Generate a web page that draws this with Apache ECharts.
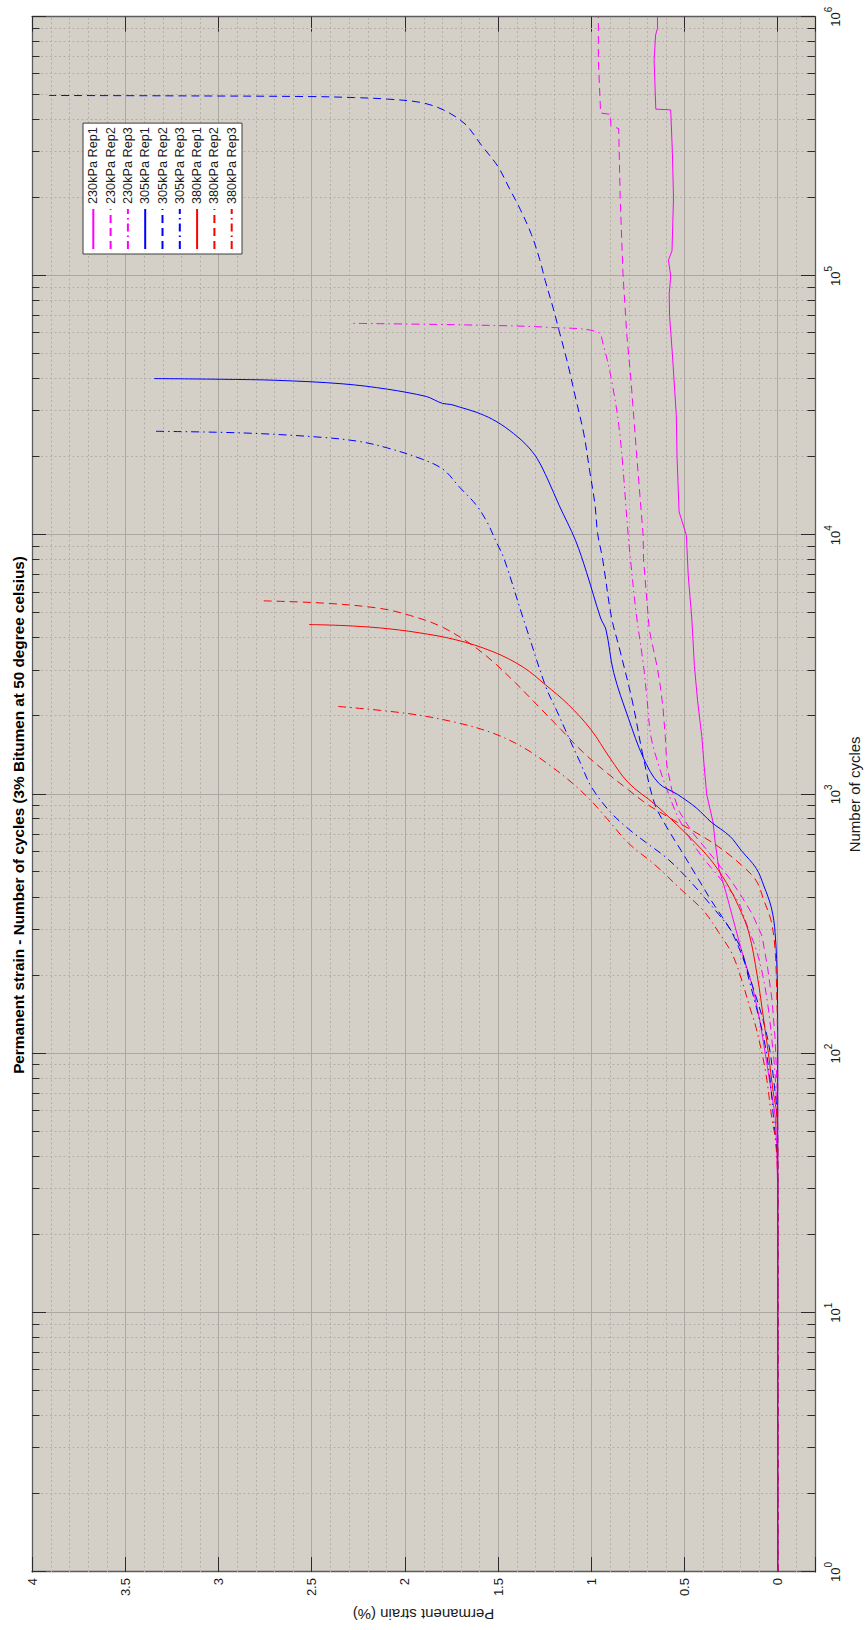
<!DOCTYPE html>
<html>
<head>
<meta charset="utf-8">
<script src="https://cdn.jsdelivr.net/npm/echarts@6/dist/echarts.min.js"></script>
<style>
  html, body { margin: 0; padding: 0; background: #ffffff; width: 867px; height: 1630px; overflow: hidden; }
  /* The plot is laid out landscape and turned a quarter turn counter-clockwise onto the portrait page. */
  #chart { position: absolute; left: 0; top: 0; width: 1630px; height: 867px;
           transform-origin: 0 0; transform: translate(0, 1630px) rotate(-90deg); }
</style>
</head>
<body>
<div id="chart"></div>
<script>
// Permanent strain (%) against number of load cycles, as [cycles, strain] pairs.
const rep230_1 = [[1,0],[30,0],[45,0.006],[58,0.014],[71,0.034],[97,0.064],[133,0.095],[182,0.135],[251,0.195],[344,0.246],[415,0.276],[518,0.316],[650,0.335],[782,0.347],[1000,0.381],[1300,0.395],[1670,0.407],[2300,0.43],[3140,0.447],[4790,0.461],[7000,0.48],[10000,0.49],[12300,0.529],[20000,0.54],[28900,0.544],[50000,0.565],[69800,0.58],[85000,0.582],[100000,0.574],[115000,0.586],[125000,0.567],[200000,0.559],[300000,0.565],[437000,0.574],[440000,0.654],[682000,0.663],[850000,0.655],[900000,0.645],[1000000,0.645]];
const rep230_2 = [[1,0],[35,0],[71,0.002],[114,0.014],[160,0.03],[214,0.054],[284,0.084],[344,0.135],[400,0.19],[472,0.256],[540,0.32],[607,0.377],[711,0.457],[859,0.528],[1040,0.568],[1297,0.595],[1670,0.603],[2150,0.615],[2600,0.629],[3140,0.648],[4310,0.689],[8110,0.72],[10000,0.722],[21000,0.758],[39500,0.787],[60000,0.81],[102000,0.83],[200000,0.845],[370000,0.853],[380000,0.895],[420000,0.897],[425000,0.95],[682000,0.962],[1000000,0.962]];
const rep230_3 = [[1,0],[35,0],[57,0.004],[83,0.014],[120,0.035],[156,0.054],[200,0.08],[251,0.115],[313,0.165],[390,0.216],[443,0.276],[502,0.338],[589,0.417],[689,0.478],[832,0.54],[1073,0.6],[1297,0.639],[1670,0.68],[2290,0.7],[3140,0.72],[5050,0.76],[8110,0.79],[10000,0.802],[24600,0.847],[39500,0.891],[54300,0.936],[60700,0.965],[63200,1.2],[64600,1.618],[65600,2.277]];
const rep305_1 = [[1,0],[40,0],[97,0],[182,0.002],[293,0.014],[365,0.034],[443,0.074],[518,0.115],[607,0.195],[689,0.256],[782,0.357],[887,0.437],[1000,0.538],[1107,0.64],[1380,0.72],[1960,0.8],[2950,0.88],[4310,0.921],[4790,0.95],[7170,1.025],[9520,1.084],[13060,1.173],[16310,1.232],[19720,1.29],[22390,1.351],[25400,1.44],[27950,1.529],[29800,1.617],[31200,1.707],[31920,1.753],[32200,1.797],[33230,1.841],[34280,1.885],[36560,2.093],[38330,2.331],[39560,2.686],[39930,2.983],[40180,3.345]];
const rep305_2 = [[1,0],[40,0],[57,0.002],[71,0.014],[114,0.054],[182,0.135],[284,0.236],[390,0.357],[486,0.437],[607,0.518],[734,0.589],[916,0.659],[1380,0.72],[2290,0.78],[3680,0.85],[4790,0.891],[8150,0.94],[10140,0.966],[13070,0.98],[17950,1.01],[24600,1.04],[33800,1.084],[46400,1.128],[61600,1.173],[74500,1.203],[95900,1.247],[115900,1.277],[144500,1.321],[180600,1.381],[218000,1.44],[263800,1.5],[319000,1.589],[385500,1.677],[437500,1.795],[466700,1.914],[481000,2.092],[487500,2.27],[492000,2.508],[495200,3.28],[496700,3.909]];
const rep305_3 = [[1,0],[35,0],[58,0.024],[83,0.044],[114,0.074],[151,0.115],[194,0.155],[251,0.195],[303,0.256],[344,0.316],[403,0.397],[486,0.498],[570,0.598],[647,0.7],[735,0.8],[858,0.9],[1070,1.0],[1340,1.062],[1670,1.123],[2085,1.183],[2600,1.244],[4310,1.345],[4790,1.366],[8150,1.469],[9530,1.513],[11200,1.558],[13060,1.617],[15300,1.706],[17940,1.795],[19720,1.914],[21680,2.092],[22960,2.241],[23850,2.449],[24780,2.864],[25160,3.354]];
const rep380_1 = [[1,0],[35,0],[57,0.004],[71,0.024],[100,0.05],[133,0.074],[200,0.11],[293,0.155],[370,0.21],[457,0.276],[560,0.36],[667,0.457],[800,0.57],[916,0.659],[1107,0.8],[1381,0.9],[1778,1.002],[2220,1.123],[2640,1.244],[3094,1.365],[3548,1.526],[3948,1.727],[4207,1.929],[4384,2.131],[4480,2.332],[4520,2.514]];
const rep380_2 = [[1,0],[40,0],[100,0],[133,0.002],[180,0.006],[251,0.014],[322,0.034],[390,0.074],[464,0.115],[534,0.195],[627,0.316],[711,0.437],[795,0.558],[916,0.7],[1040,0.8],[1218,0.921],[1449,1.042],[1780,1.163],[2188,1.284],[2684,1.405],[3245,1.526],[3800,1.647],[4450,1.808],[4895,1.97],[5215,2.131],[5466,2.433],[5585,2.785]];
const rep380_3 = [[1,0],[30,0],[45,0.01],[58,0.034],[85,0.065],[125,0.115],[151,0.15],[194,0.195],[243,0.245],[293,0.316],[355,0.397],[429,0.518],[535,0.659],[647,0.8],[782,0.9],[946,1.002],[1107,1.103],[1297,1.224],[1517,1.365],[1721,1.526],[1896,1.728],[2053,1.99],[2188,2.372]];

const seriesNames = ['230kPa Rep1','230kPa Rep2','230kPa Rep3','305kPa Rep1','305kPa Rep2','305kPa Rep3','380kPa Rep1','380kPa Rep2','380kPa Rep3'];
const seriesData = [rep230_1, rep230_2, rep230_3, rep305_1, rep305_2, rep305_3, rep380_1, rep380_2, rep380_3];

// Axis ranges and the minor grid positions.
const CYCLES_MIN = 1, CYCLES_MAX = 1000000;
const STRAIN_MIN = -0.2, STRAIN_MAX = 4;
const cycleMinor = [];
for (let k = 0; k < 6; k++) for (let m = 2; m <= 9; m++) cycleMinor.push(m * Math.pow(10, k));
const strainMinor = [];
for (let i = -1; i < 40; i++) if (i % 5 !== 0) strainMinor.push(i / 10);

const MAGENTA = '#ff00ff', BLUE = '#0000ff', RED = '#ff0000';
const DASHED = [8, 5], DASHDOT = [8, 4, 1.5, 4];
const lineColors = [MAGENTA, MAGENTA, MAGENTA, BLUE, BLUE, BLUE, RED, RED, RED];
const lineTypes = ['solid', DASHED, DASHDOT, 'solid', DASHED, DASHDOT, 'solid', DASHED, DASHDOT];
// The first two records contain abrupt jumps, so they are drawn as plain polylines.
const stepped = [true, true, false, false, false, false, false, false, false];

const FONT = '"Liberation Sans", Arial, Helvetica, sans-serif';
const TEXT = '#1a1a1a';
const MAJOR_GRID = '#aca8a1', MINOR_GRID = '#b4b0a9', EDGE = '#5c5c5c', TICK = '#2b2b2b';

// Dotted minor grid lines and the short minor ticks of the logarithmic axis.
function renderMinorGrid(params, api) {
  const bl = api.coord([CYCLES_MIN, STRAIN_MIN]);
  const tr = api.coord([CYCLES_MAX, STRAIN_MAX]);
  const dotted = { stroke: MINOR_GRID, lineWidth: 1, lineDash: [2, 2.5], fill: null };
  const tickStyle = { stroke: TICK, lineWidth: 1, fill: null };
  const children = [];
  cycleMinor.forEach(function (n) {
    const x = Math.round(api.coord([n, 0])[0]) + 0.5;
    children.push({ type: 'line', shape: { x1: x, y1: tr[1], x2: x, y2: bl[1] }, style: dotted });
    children.push({ type: 'line', shape: { x1: x, y1: bl[1], x2: x, y2: bl[1] - 7.5 }, style: tickStyle });
    children.push({ type: 'line', shape: { x1: x, y1: tr[1], x2: x, y2: tr[1] + 7.5 }, style: tickStyle });
  });
  strainMinor.forEach(function (s) {
    const y = Math.round(api.coord([CYCLES_MIN, s])[1]) + 0.5;
    children.push({ type: 'line', shape: { x1: bl[0], y1: y, x2: tr[0], y2: y }, style: dotted });
  });
  return { type: 'group', children: children };
}

function powerLabel(value) {
  const e = Math.round(Math.log10(value));
  return '{b|10}{e|' + e + '}';
}

const chart = echarts.init(document.getElementById('chart'), null, { renderer: 'svg' });

const lineSeries = seriesNames.map(function (name, i) {
  return {
    type: 'line',
    name: name,
    data: seriesData[i],
    symbol: 'none',
    smooth: stepped[i] ? false : 0.35,
    lineStyle: { color: lineColors[i], width: 1, type: lineTypes[i] },
    itemStyle: { color: lineColors[i] },
    emphasis: { disabled: true },
    silent: true,
    z: 3
  };
});

chart.setOption({
  animation: false,
  backgroundColor: '#ffffff',
  textStyle: { fontFamily: FONT },
  title: {
    text: 'Permanent strain - Number of cycles (3% Bitumen at 50 degree celsius)',
    left: 'center',
    top: 11,
    padding: [0, 0, 0, 36],
    textStyle: { fontFamily: FONT, fontSize: 15.3, fontWeight: 'bold', color: '#000000' }
  },
  legend: {
    data: seriesNames,
    orient: 'vertical',
    left: 1376,
    top: 83,
    padding: [3.3, 4, 3.3, 4],
    itemWidth: 40,
    itemHeight: 14,
    itemGap: 3.3,
    backgroundColor: '#ffffff',
    borderColor: '#3c3c3c',
    borderWidth: 1,
    borderRadius: 0,
    selectedMode: false,
    itemStyle: { opacity: 0 },
    textStyle: { fontFamily: FONT, fontSize: 12.7, color: TEXT, lineHeight: 14 }
  },
  grid: {
    left: 53, right: 16.7, top: 32, bottom: 52,
    show: true, backgroundColor: '#d4d0c8', borderWidth: 0
  },
  xAxis: [{
    type: 'log', logBase: 10, min: CYCLES_MIN, max: CYCLES_MAX, splitNumber: 6,
    position: 'bottom',
    name: 'Number of cycles', nameLocation: 'middle', nameGap: 30,
    nameTextStyle: { fontFamily: FONT, fontSize: 15, color: TEXT },
    axisLine: { onZero: false, lineStyle: { color: EDGE, width: 1.3 } },
    axisTick: { inside: true, length: 14, lineStyle: { color: TICK, width: 1 } },
    axisLabel: {
      margin: 8, formatter: powerLabel,
      rich: {
        b: { fontFamily: FONT, fontSize: 13, color: TEXT, verticalAlign: 'bottom', padding: [6, 0, 0, 0] },
        e: { fontFamily: FONT, fontSize: 10, color: TEXT, verticalAlign: 'top' }
      }
    },
    splitLine: { show: true, lineStyle: { color: MAJOR_GRID, width: 1 } }
  }, {
    type: 'log', logBase: 10, min: CYCLES_MIN, max: CYCLES_MAX, splitNumber: 6,
    position: 'top',
    axisLine: { onZero: false, lineStyle: { color: EDGE, width: 1.3 } },
    axisTick: { inside: true, length: 14, lineStyle: { color: TICK, width: 1 } },
    axisLabel: { show: false },
    splitLine: { show: false }
  }],
  yAxis: [{
    type: 'value', min: STRAIN_MIN, max: STRAIN_MAX, splitNumber: 8,
    position: 'left',
    name: 'Permanent strain (%)', nameLocation: 'middle', nameGap: 31,
    nameTextStyle: { fontFamily: FONT, fontSize: 15, color: TEXT },
    axisLine: { onZero: false, lineStyle: { color: EDGE, width: 1.3 } },
    axisTick: { inside: true, length: 15, lineStyle: { color: TICK, width: 1 } },
    axisLabel: {
      margin: 6, fontFamily: FONT, fontSize: 13, color: TEXT,
      formatter: function (v) { return v < 0 ? '' : String(v); }
    },
    splitLine: { show: true, lineStyle: { color: MAJOR_GRID, width: 1 } }
  }, {
    type: 'value', min: STRAIN_MIN, max: STRAIN_MAX, splitNumber: 8,
    position: 'right',
    axisLine: { onZero: false, lineStyle: { color: EDGE, width: 1.3 } },
    axisTick: { inside: true, length: 15, lineStyle: { color: TICK, width: 1 } },
    axisLabel: { show: false },
    splitLine: { show: false }
  }],
  series: [{
    type: 'custom',
    name: 'minor grid',
    silent: true,
    z: 1,
    data: [[CYCLES_MIN, 0]],
    renderItem: renderMinorGrid
  }].concat(lineSeries)
});
</script>
</body>
</html>
